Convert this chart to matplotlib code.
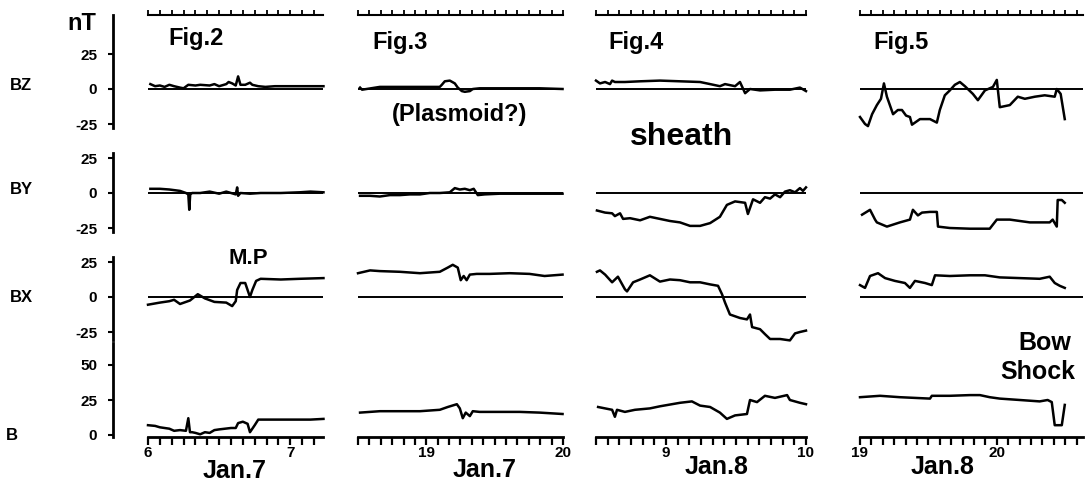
import numpy as np
import matplotlib
matplotlib.use('Agg')
import matplotlib.pyplot as plt

plt.rcParams['font.family'] = ['Liberation Sans', 'DejaVu Sans']
plt.rcParams['font.weight'] = 'bold'

# ---- data: minutes after the start hour of each panel, field in nT ----
# Fig.2  (Jan.7, from 06:00 UT)
fig2_bz_m = [1, 3, 5, 7, 9, 11, 13.5, 15, 17, 20, 22, 26, 28, 30, 33, 34, 35.5, 37, 38, 39,
             41, 43, 44, 46.5, 49.5, 53.5, 64, 74]
fig2_bz = [3.5, 2, 2.5, 1.5, 3, 2, 1, 0.5, 3, 2.5, 3, 2.5, 3.5, 2, 3.5, 5, 4, 2.5, 9, 3,
           3, 4.5, 3, 2, 1.5, 2, 2, 2]
fig2_by_m = [1, 5, 9, 13.5, 16, 17, 17.4, 17.8, 18.6, 22, 26, 30, 33, 35, 37, 37.6, 38, 39,
             43, 47.5, 56, 64, 68.5, 74]
fig2_by = [3, 3, 2.5, 1.5, 0, -1, -12, -1, 0, 0, 1, -0.5, 1, 0, -1, 4, -2, 0,
           -0.5, 0, 0, 0.5, 1, 0.5]
fig2_bx_m = [0, 5, 9, 11, 13.5, 17.7, 21, 24, 28, 33, 35.5, 37, 37.6, 39, 41, 42, 43, 44,
             45.6, 47.5, 56, 64, 74]
fig2_bx = [-5.5, -4, -3, -2, -5, -2.5, 2, -1, -3.5, -4, -6.5, -3, 5, 10, 10, 5, 0, 5,
           11.5, 13, 12.5, 13, 13.5]
fig2_b_m = [0, 3, 5, 9, 11, 13.5, 16, 17, 17.7, 18.6, 20, 22, 24, 26, 28, 30, 35, 37, 38,
            40, 42, 43, 45, 46.5, 51.5, 60, 68.5, 74]
fig2_b = [7, 6.5, 5.5, 4.5, 3, 3.5, 3, 12, 2, 2, 1.5, 0.5, 2, 1.5, 3.5, 4, 5, 5, 8.5,
          9.5, 8, 2, 7, 11, 11, 11, 11, 11.5]

# Fig.3  (Jan.7, from 18:30 UT)
fig3_bz_m = [0.9, 1.8, 9.6, 18.4, 27.2, 35.9, 36.8, 38.1, 40.3, 42.5, 43.8, 45.6, 46.9,
             49.1, 50.4, 53.4, 62.2, 79.7, 89.8]
fig3_bz = [1, -0.5, 1.5, 1.5, 1.5, 1.5, 3, 5.5, 6, 4, 1, -1.5, -2, -1.5, 0, 0.5, 0.5, 0.5, 0]
fig3_by_m = [0.9, 5.3, 9.6, 14, 18.4, 22.8, 27.2, 31.5, 35.9, 40.3, 42.5, 44.7, 46.9, 49.1,
             50.8, 52.6, 55.6, 62.2, 75.3, 89.8]
fig3_by = [-2, -2, -2.5, -1.5, -1.5, -1, -1, 0, 0, 0.5, 3.5, 2.5, 3, 2, 3, -1.5, -1,
           -0.5, -0.5, -0.5]
fig3_bx_m = [0, 5.3, 9.6, 18.4, 27.2, 35.9, 39.4, 41.6, 43.8, 45.1, 46.4, 47.7, 49.1, 52.1,
             57.8, 66.6, 75.3, 81.9, 89.8]
fig3_bx = [17, 19, 18.5, 18, 17, 18, 21, 23, 21, 12, 15, 12, 16, 16.5, 16.5, 17, 16.5, 15, 16]
fig3_b_m = [0.9, 9.6, 18.4, 27.2, 35.9, 39.4, 43.4, 44.7, 46, 47.3, 49.1, 50.4, 53.4,
            62.2, 71, 79.7, 89.8]
fig3_b = [16, 17, 17, 17, 18, 20, 22, 19, 12, 16, 13.5, 17, 16.5, 16.5, 16.5, 16, 15]

# Fig.4  (Jan.8, from 08:30 UT)
fig4_bz_m = [0, 1.7, 3.9, 6, 6.9, 8.1, 12.4, 18.9, 27.4, 36, 44.6, 48.9, 53.1, 55.3, 59.6,
             61.7, 63.9, 66, 70.3, 76.7, 83.1, 87.4, 90]
fig4_bz = [6, 4, 5, 3.5, 6, 5, 5, 5.5, 6, 5.5, 5, 3.5, 2, 3.5, 2, 5, -3, 0, -1, -0.5,
           -0.5, 1, -1.5]
fig4_by_m = [0.4, 3.9, 6.9, 8.1, 10.3, 11.6, 14.6, 18.9, 23.1, 27.4, 31.7, 36, 40.3, 44.6,
             48.9, 53.1, 56.1, 59.6, 63.9, 65.1, 67.3, 70.3, 72.4, 74.6, 76.7, 78.9, 81,
             83.1, 85.3, 87.4, 88.7, 90]
fig4_by = [-12.5, -14, -14.5, -16.5, -14.5, -18.5, -18, -19.5, -17, -18.5, -20, -21, -23.5,
           -23.5, -21.5, -17, -8.5, -6, -7, -15, -4.5, -7, -3, -4, -1, -3, 1, 2, 0.5,
           3.5, 1.5, 4]
fig4_bx_m = [0.4, 1.7, 3.9, 6.9, 9.4, 12.4, 13.3, 15.9, 18.9, 23.1, 27.4, 31.7, 36, 40.3,
             44.6, 48.9, 52.3, 54, 55.3, 57.4, 61.7, 64.7, 66, 66.9, 70.3, 72.4, 74.6,
             78.9, 83.1, 85.3, 87.4, 90]
fig4_bx = [18, 19, 16, 10.5, 14.5, 5.5, 4, 10.5, 12.5, 15.5, 11, 12.5, 12, 10.5, 10.5, 9,
           8, 2, -4, -12.5, -15, -16, -12.5, -21.5, -23, -26.5, -30, -30, -31, -26, -25, -24]
fig4_b_m = [0.9, 3.9, 6.9, 8.1, 9, 12.4, 16.7, 23.1, 27.4, 36, 41.1, 44.6, 48.9, 53.1,
            56.1, 59.6, 64.7, 66, 69, 72.4, 76.7, 81.9, 83.1, 87.4, 90]
fig4_b = [20, 19, 18, 13, 18, 16.5, 18, 19, 20.5, 23, 24, 21, 20, 16, 11.5, 14, 15, 25,
          23.5, 28, 26.5, 28.5, 25, 23, 22]

# Fig.5  (Jan.8, from 19:00 UT)
fig5_bz_m = [0, 2.2, 3.5, 5.3, 7.4, 9.2, 10.5, 11.8, 14.5, 16.6, 18.4, 20.2, 21.9, 22.8,
             26.3, 30.7, 33.7, 35, 37.2, 39.4, 41.6, 43.8, 46, 49.5, 51.7, 54.8, 58.3,
             60, 61.3, 65.7, 69.2, 72.3, 76.7, 81, 85.4, 86.3, 88, 89.8]
fig5_bz = [-20, -25, -26.5, -18, -11.5, -7, 4, -5.5, -18, -15, -15, -19, -20, -25.5,
           -21.5, -21.5, -24, -15, -4.5, -1, 3, 5, 2, -3.5, -8, -1, 1.5, 6.5, -13, -11.5,
           -5.5, -7, -5.5, -4.5, -5.5, 0, -3.5, -21.5]
fig5_by_m = [0.9, 4.4, 6.6, 7.4, 11.8, 17.5, 21.9, 23.2, 25.4, 27.2, 30.7, 33.7, 34.2,
             39.4, 48.2, 56.9, 60, 65.7, 74.5, 83.2, 84.5, 86.3, 86.7, 88.5, 89.8]
fig5_by = [-15.5, -12, -19, -21, -24, -21, -19, -12, -16, -14, -13.5, -13.5, -24, -25,
           -25.5, -25.5, -19, -19, -21, -21, -19, -24, -5, -5, -7]
fig5_bx_m = [0, 2.2, 4.4, 7.9, 11, 15.3, 19.7, 21.9, 24.1, 28.5, 31.5, 32.9, 39.4, 48.2,
             54.8, 61.3, 70.1, 78.8, 83.2, 85.4, 87.6, 89.8]
fig5_bx = [8.5, 6.5, 15, 17, 13.5, 11.5, 10, 6.5, 11.5, 10, 8.5, 15.5, 15, 15.5, 15.5, 14,
           13.5, 13, 14.5, 10, 8, 6.5]
fig5_b_m = [0, 8.8, 17.5, 30.7, 31.5, 39.4, 48.2, 52.6, 56.9, 61.3, 70.1, 78.8, 82.3,
            84.1, 85.4, 88.5, 89.8]
fig5_b = [27, 28, 27, 26, 28, 28, 28.5, 28.5, 27, 26, 25, 24, 25, 23.5, 7, 7, 21.5]

fig_titles = ['Fig.2', 'Fig.3', 'Fig.4', 'Fig.5']
dates = ['Jan.7', 'Jan.7', 'Jan.8', 'Jan.8']
start_hours = [6.0, 18.5, 8.5, 19.0]
end_hours = [7.23, 20.0, 10.0, 20.63]
row_names = ['BZ', 'BY', 'BX', 'B']

series = [
    [(fig2_bz_m, fig2_bz), (fig2_by_m, fig2_by), (fig2_bx_m, fig2_bx), (fig2_b_m, fig2_b)],
    [(fig3_bz_m, fig3_bz), (fig3_by_m, fig3_by), (fig3_bx_m, fig3_bx), (fig3_b_m, fig3_b)],
    [(fig4_bz_m, fig4_bz), (fig4_by_m, fig4_by), (fig4_bx_m, fig4_bx), (fig4_b_m, fig4_b)],
    [(fig5_bz_m, fig5_bz), (fig5_by_m, fig5_by), (fig5_bx_m, fig5_bx), (fig5_b_m, fig5_b)],
]

# ---- layout (pixels) ----
W, H = 1090, 484
col_px = [(148, 323), (358, 563), (596, 806), (860, 1083)]
row_px = [(15, 128, 89), (153, 232, 193), (257, 340, 297), (343, 437, 435)]
px_per_nT = 1.4


def rect(x0, x1, y0, y1):
    return [x0 / W, 1 - y1 / H, (x1 - x0) / W, (y1 - y0) / H]


fig = plt.figure(figsize=(W / 100, H / 100), dpi=100)

for c in range(4):
    x0, x1 = col_px[c]
    t0, t1 = start_hours[c], end_hours[c]
    for r in range(4):
        y0, y1, yz = row_px[r]
        ax = fig.add_axes(rect(x0, x1, y0, y1))
        ax.set_xlim(t0, t1)
        ax.set_ylim(-(y1 - yz) / px_per_nT, (yz - y0) / px_per_nT)
        ax.patch.set_alpha(0)
        for s in ax.spines.values():
            s.set_visible(False)
        ax.set_xticks([])
        ax.set_yticks([])

        m, v = series[c][r]
        t = t0 + np.array(m) / 60.0
        ax.plot(t, v, color='black', lw=1.8, clip_on=False, solid_joinstyle='round')
        if r < 3:
            ax.axhline(0, color='black', lw=1.4)

        five_min = np.arange(t0, t1 + 1e-6, 5 / 60)
        if r == 0:
            ax.spines['top'].set_visible(True)
            ax.spines['top'].set_linewidth(1.5)
            ax.xaxis.set_ticks_position('top')
            ax.set_xticks(five_min)
            ax.set_xticklabels([])
            ax.tick_params(axis='x', direction='out', length=3.5, width=1.3)
        if r == 3:
            ax.spines['bottom'].set_visible(True)
            ax.spines['bottom'].set_linewidth(2)
            hours = np.arange(np.ceil(t0), t1 + 1e-6, 1.0)
            ax.set_xticks(hours)
            ax.set_xticklabels([str(int(h)) for h in hours], fontsize=11, fontweight='bold')
            ax.set_xticks(five_min, minor=True)
            ax.tick_params(axis='x', which='both', direction='out', length=5.5, width=1.6, pad=1)
        if c == 0:
            ax.spines['left'].set_visible(True)
            ax.spines['left'].set_linewidth(2)
            ax.spines['left'].set_position(('outward', 25.2))
            yt = [0, 25, 50] if r == 3 else [-25, 0, 25]
            ax.set_yticks(yt)
            ax.set_yticklabels(['%d' % y for y in yt], fontsize=11, fontweight='bold')
            ax.tick_params(axis='y', direction='out', length=3.5, width=1.5, pad=8)

# panel titles and dates
title_xy = [(196, 38), (400, 43), (636, 42), (901, 42)]
date_xy = [(235, 471), (485, 470), (717, 467), (943, 467)]
for c in range(4):
    fig.text(title_xy[c][0] / W, 1 - title_xy[c][1] / H, fig_titles[c], fontsize=17,
             fontweight='bold', ha='center', va='center')
    fig.text(date_xy[c][0] / W, 1 - date_xy[c][1] / H, dates[c], fontsize=18,
             fontweight='bold', ha='center', va='center')

# row names and unit
row_label_xy = [(21, 86), (21, 190), (21, 297), (12, 435)]
for r in range(4):
    fig.text(row_label_xy[r][0] / W, 1 - row_label_xy[r][1] / H, row_names[r], fontsize=12,
             fontweight='bold', ha='center', va='center')
fig.text(82 / W, 1 - 23 / H, 'nT', fontsize=17, fontweight='bold', ha='center', va='center')

# annotations
fig.text(460 / W, 1 - 114 / H, '(Plasmoid?)', fontsize=17, fontweight='bold', ha='center', va='center')
fig.text(682 / W, 1 - 137 / H, 'sheath', fontsize=23, fontweight='bold', ha='center', va='center')
fig.text(248 / W, 1 - 258 / H, 'M.P', fontsize=16, fontweight='bold', ha='center', va='center')
fig.text(1045 / W, 1 - 343 / H, 'Bow', fontsize=18, fontweight='bold', ha='center', va='center')
fig.text(1038 / W, 1 - 372 / H, 'Shock', fontsize=18, fontweight='bold', ha='center', va='center')

fig.savefig('out.png', dpi=100, facecolor='white')
